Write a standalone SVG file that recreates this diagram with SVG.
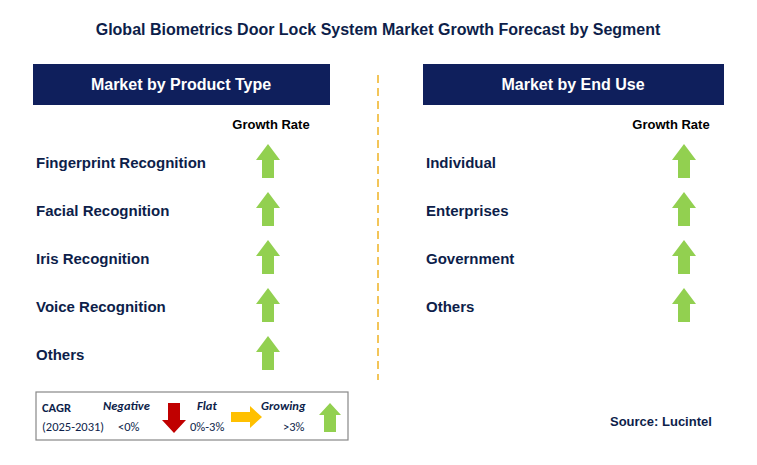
<svg xmlns="http://www.w3.org/2000/svg" width="757" height="465" viewBox="0 0 757 465">
<style>
text{font-family:"Liberation Sans",Arial,sans-serif;fill:#0d1e4a}
.t{font-size:16px;font-weight:bold}
.h{font-size:16px;font-weight:bold;fill:#fff}
.g{font-size:13px;font-weight:bold;fill:#000}
.l{font-size:15px;font-weight:bold;fill:#0d1e4a}
.up{fill:#92D050}
.lg{font-family:Calibri,"Carlito","Liberation Sans",sans-serif;font-size:12.5px}
</style>
<defs><path id="up" class="up" d="M0,0 L12,16 L6,16 L6,34 L-6,34 L-6,16 L-12,16 Z"/></defs>
<rect width="757" height="465" fill="#fff"/>
<text class="t" x="378" y="35" text-anchor="middle">Global Biometrics Door Lock System Market Growth Forecast by Segment</text>
<g id="connectors"><line x1="378" y1="75" x2="378" y2="380" stroke="#f0b323" stroke-width="1.5" stroke-dasharray="8,5"/></g>
<g id="left-header"><rect x="33" y="64" width="297" height="41" fill="#0f1f5c"/><text class="h" x="181" y="90" text-anchor="middle">Market by Product Type</text></g>
<g id="right-header"><rect x="423" y="64" width="301" height="41" fill="#0f1f5c"/><text class="h" x="573" y="90" text-anchor="middle">Market by End Use</text></g>
<text class="g" x="271" y="129" text-anchor="middle">Growth Rate</text>
<text class="g" x="671" y="129" text-anchor="middle">Growth Rate</text>
<g id="l1"><text class="l" x="36" y="168">Fingerprint Recognition</text><use href="#up" x="268" y="144"/></g>
<g id="l2"><text class="l" x="36" y="216">Facial Recognition</text><use href="#up" x="268" y="192"/></g>
<g id="l3"><text class="l" x="36" y="264">Iris Recognition</text><use href="#up" x="268" y="240"/></g>
<g id="l4"><text class="l" x="36" y="312">Voice Recognition</text><use href="#up" x="268" y="288"/></g>
<g id="l5"><text class="l" x="36" y="360">Others</text><use href="#up" x="268" y="336"/></g>
<g id="r1"><text class="l" x="426" y="168">Individual</text><use href="#up" x="684" y="144"/></g>
<g id="r2"><text class="l" x="426" y="216">Enterprises</text><use href="#up" x="684" y="192"/></g>
<g id="r3"><text class="l" x="426" y="264">Government</text><use href="#up" x="684" y="240"/></g>
<g id="r4"><text class="l" x="426" y="312">Others</text><use href="#up" x="684" y="288"/></g>
<g id="legend">
<rect x="36" y="392" width="312" height="48" fill="#fff" stroke="#888" stroke-width="1.2"/>
<text class="lg" x="42" y="412" font-weight="bold" font-size="13">CAGR</text>
<text class="lg" x="42" y="431">(2025-2031)</text>
<text class="lg" x="103" y="410" font-weight="bold" font-style="italic">Negative</text>
<text class="lg" x="118" y="431">&lt;0%</text>
<path d="M168,403 L180,403 L180,420 L186,420 L174,433 L162,420 L168,420 Z" fill="#c00000"/>
<text class="lg" x="197" y="410" font-weight="bold" font-style="italic">Flat</text>
<text class="lg" x="190" y="431">0%-3%</text>
<path d="M231,412 L250,412 L250,406 L262,417 L250,428 L250,422 L231,422 Z" fill="#ffc000"/>
<text class="lg" x="261" y="410" font-weight="bold" font-style="italic">Growing</text>
<text class="lg" x="283" y="431">&gt;3%</text>
<path d="M330,403 L341,415 L336,415 L336,432 L324,432 L324,415 L319,415 Z" class="up"/>
</g>
<text class="g" x="610" y="426" style="fill:#0d1e4a">Source: Lucintel</text>
</svg>
